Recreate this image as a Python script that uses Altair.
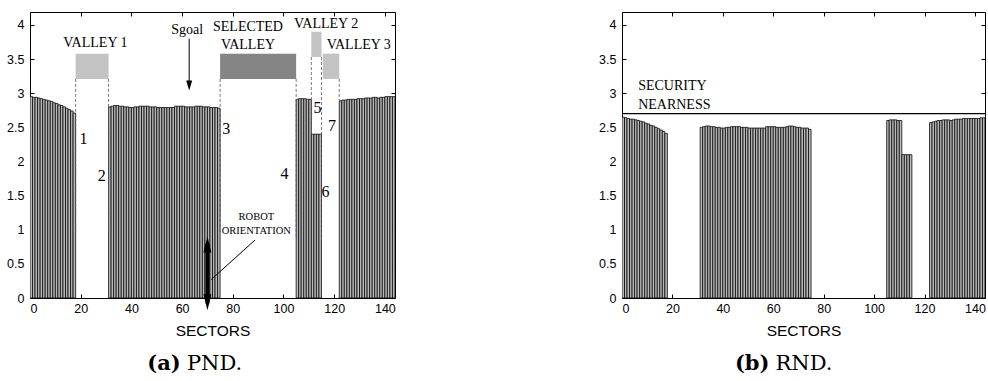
import altair as alt
import pandas as pd

# ---------------- data ----------------
SECTORS = list(range(144))

PND = ([2.95, 2.94, 2.94, 2.93, 2.92, 2.91, 2.90, 2.89, 2.88, 2.86, 2.85, 2.83, 2.82, 2.80, 2.78, 2.76, 2.74, 2.71]
       + [0.0] * 13
       + [2.80, 2.81, 2.82, 2.82, 2.81, 2.81, 2.80, 2.80, 2.79, 2.79,
          2.80, 2.80, 2.81, 2.81, 2.81, 2.81, 2.80, 2.80, 2.80, 2.79,
          2.79, 2.79, 2.79, 2.79, 2.79, 2.79, 2.81, 2.81, 2.81, 2.81,
          2.80, 2.80, 2.80, 2.80, 2.81, 2.81, 2.81, 2.80, 2.80, 2.80,
          2.79, 2.79, 2.79, 2.78]
       + [0.0] * 30
       + [2.91, 2.92, 2.92, 2.92, 2.91, 2.91]
       + [2.40, 2.40, 2.40, 2.40]
       + [0.0] * 7
       + [2.89, 2.90, 2.90, 2.91, 2.91, 2.91, 2.91, 2.92, 2.92, 2.92, 2.93,
          2.93, 2.93, 2.94, 2.94, 2.93, 2.94, 2.94, 2.95, 2.95, 2.95, 2.95])

RND = ([2.65, 2.64, 2.63, 2.62, 2.62, 2.61, 2.60, 2.59, 2.58, 2.56, 2.55, 2.53, 2.52, 2.50, 2.48, 2.46, 2.44, 2.41]
       + [0.0] * 13
       + [2.50, 2.51, 2.52, 2.52, 2.51, 2.51, 2.50, 2.50, 2.49, 2.49,
          2.50, 2.50, 2.51, 2.51, 2.51, 2.51, 2.50, 2.50, 2.50, 2.49,
          2.49, 2.49, 2.49, 2.49, 2.49, 2.49, 2.51, 2.51, 2.51, 2.51,
          2.50, 2.50, 2.50, 2.50, 2.51, 2.52, 2.52, 2.51, 2.50, 2.50,
          2.49, 2.49, 2.49, 2.47]
       + [0.0] * 30
       + [2.60, 2.61, 2.61, 2.61, 2.60, 2.60]
       + [2.10, 2.10, 2.10, 2.10]
       + [0.0] * 7
       + [2.57, 2.58, 2.59, 2.60, 2.60, 2.61, 2.61, 2.61, 2.60, 2.61, 2.62,
          2.62, 2.62, 2.63, 2.63, 2.63, 2.63, 2.63, 2.63, 2.63, 2.64, 2.64])

X_TICKS = [0, 20, 40, 60, 80, 100, 120, 140]
Y_TICKS = [0, 0.5, 1, 1.5, 2, 2.5, 3, 3.5, 4]
X_MAX = 144
Y_MAX = 4.19

# valleys (PND panel)
VALLEY_X1 = [18, 75, 111, 115.5]
VALLEY_X2 = [31, 105, 115, 122]
VALLEY_Y1 = [3.21, 3.21, 3.53, 3.21]
VALLEY_Y2 = [3.58, 3.58, 3.90, 3.58]
VALLEY_KIND = ["free", "selected", "free", "free"]

# dashed valley borders
DASH_X = [18, 31, 75, 105, 111, 115, 122]
DASH_TOP = [3.21, 3.21, 3.21, 3.21, 3.53, 3.53, 3.21]
DASH_BOTTOM = [0.95, 0.95, 0.95, 0.90, 2.40, 0.85, 2.90]

# region labels
LABELS = ["VALLEY 1", "Sgoal", "SELECTED", "VALLEY", "VALLEY 2", "VALLEY 3"]
LABEL_X = [25.8, 62, 86, 86, 116.8, 129.7]
LABEL_Y = [3.74, 3.93, 3.97, 3.70, 4.02, 3.70]

# discontinuity numbers
NUMS = ["1", "2", "3", "4", "5", "6", "7"]
NUM_X = [21.1, 28.3, 77.4, 100.4, 113.4, 116.6, 119.1]
NUM_Y = [2.33, 1.79, 2.47, 1.81, 2.79, 1.56, 2.52]

ROBOT_TEXT = ["ROBOT", "ORIENTATION"]
ROBOT_X = [89.3, 89.3]
ROBOT_Y = [1.18, 0.98]

# Sgoal arrow
SGOAL_X = 62.8
SGOAL_TOP = 3.80
SGOAL_TIP = 3.04

# robot orientation arrow
ROBOT_AX = 70
ROBOT_TOP = 0.90
ROBOT_BOTTOM = -0.18
POINTER = [88.8, 0.85, 71.5, 0.27]  # x, y, x2, y2

# RND panel
SECURITY_Y = 2.70
SEC_TEXT = ["SECURITY", "NEARNESS"]
SEC_X = [6.4, 6.4]
SEC_Y = [3.10, 2.83]

CAPTION_Y = -1.05

# ---------------- styles ----------------
SANS = "Liberation Sans"
SERIF = "Liberation Serif"
CAPF = "DejaVu Serif"

xs = alt.Scale(domain=[0, X_MAX], nice=False, zero=False)
ys = alt.Scale(domain=[0, Y_MAX], nice=False, zero=False)

common_axis = dict(domain=False, grid=False, tickSize=4, offset=-4, tickColor="black",
                   tickWidth=1, labelFont=SANS, labelFontSize=12.5, labelColor="black")

x_bottom = alt.Axis(orient="bottom", values=X_TICKS, format="d", title="SECTORS",
                    labelPadding=4, titleFont=SANS, titleFontSize=15.5, titleFontWeight="normal",
                    titleColor="black", titlePadding=9, **common_axis)
y_left = alt.Axis(orient="left", values=Y_TICKS, format="~g", title=None, labelPadding=6,
                  **common_axis)
x_top = alt.Axis(orient="top", values=X_TICKS, labels=False, title=None, **common_axis)
y_right = alt.Axis(orient="right", values=Y_TICKS, labels=False, title=None, **common_axis)


def X(field):
    return alt.X(field, scale=xs, axis=None)


def Y(field):
    return alt.Y(field, scale=ys, axis=None)


def bars_layers(values):
    df = pd.DataFrame({"sector": SECTORS, "value": values})
    bars = (alt.Chart(df)
            .transform_filter("datum.value > 0")
            .transform_calculate(end="datum.sector + 1")
            .mark_rect(fill="#b8b8b8", stroke="black", strokeWidth=0.75, clip=True)
            .encode(x=alt.X("sector:Q", scale=xs, axis=x_bottom),
                    x2="end:Q",
                    y=alt.Y("value:Q", scale=ys, axis=y_left),
                    y2=alt.datum(0)))
    frame = (alt.Chart(df).mark_point(opacity=0)
             .encode(x=alt.X("sector:Q", scale=xs, axis=x_top),
                     y=alt.Y("value:Q", scale=ys, axis=y_right)))
    return bars, frame


def text_layer(labels, xv, yv, size, font=SERIF, align="center", baseline="middle", weight="normal"):
    df = pd.DataFrame({"label": labels, "x": xv, "y": yv})
    return (alt.Chart(df)
            .mark_text(font=font, fontSize=size, align=align, baseline=baseline,
                       fontWeight=weight, color="black")
            .encode(x=X("x:Q"), y=Y("y:Q"), text="label:N"))


def caption(bold, rest, xb, xr):
    a = text_layer([bold], [xb], [CAPTION_Y], 21, font=CAPF, align="right",
                   baseline="alphabetic", weight="bold")
    b = text_layer([rest], [xr], [CAPTION_Y], 21, font=CAPF, align="left",
                   baseline="alphabetic")
    return [a, b]


# ---------------- left panel (PND) ----------------
bars_l, frame_l = bars_layers(PND)

valleys = (alt.Chart(pd.DataFrame({"x1": VALLEY_X1, "x2": VALLEY_X2, "y1": VALLEY_Y1,
                                   "y2": VALLEY_Y2, "kind": VALLEY_KIND}))
           .mark_rect()
           .encode(x=X("x1:Q"), x2="x2:Q", y=Y("y1:Q"), y2="y2:Q",
                   color=alt.Color("kind:N", scale=alt.Scale(domain=["free", "selected"],
                                                              range=["#c3c3c3", "#858585"]),
                                   legend=None)))

dashes = (alt.Chart(pd.DataFrame({"x": DASH_X, "top": DASH_TOP, "bottom": DASH_BOTTOM}))
          .mark_rule(color="#555555", strokeWidth=0.8, strokeDash=[3, 2])
          .encode(x=X("x:Q"), y=Y("top:Q"), y2="bottom:Q"))

sgoal_line = (alt.Chart(pd.DataFrame({"x": [SGOAL_X], "y": [SGOAL_TOP], "y2": [SGOAL_TIP + 0.08]}))
              .mark_rule(color="black", strokeWidth=1)
              .encode(x=X("x:Q"), y=Y("y:Q"), y2="y2:Q"))
sgoal_head = (alt.Chart(pd.DataFrame({"x": [SGOAL_X], "y": [SGOAL_TIP]}))
              .mark_point(shape="M-0.6,-2L0.6,-2L0,0Z", size=100, filled=True, color="black", opacity=1)
              .encode(x=X("x:Q"), y=Y("y:Q")))

robot_shaft = (alt.Chart(pd.DataFrame({"x": [ROBOT_AX], "y": [ROBOT_BOTTOM + 0.1], "y2": [ROBOT_TOP - 0.1]}))
               .mark_rule(color="black", strokeWidth=4)
               .encode(x=X("x:Q"), y=Y("y:Q"), y2="y2:Q"))
robot_up = (alt.Chart(pd.DataFrame({"x": [ROBOT_AX], "y": [ROBOT_TOP]}))
            .mark_point(shape="M-0.5,2L0.5,2L0,0Z", size=256, filled=True, color="black", opacity=1)
            .encode(x=X("x:Q"), y=Y("y:Q")))
robot_down = (alt.Chart(pd.DataFrame({"x": [ROBOT_AX], "y": [ROBOT_BOTTOM]}))
              .mark_point(shape="M-0.5,-2L0.5,-2L0,0Z", size=256, filled=True, color="black", opacity=1)
              .encode(x=X("x:Q"), y=Y("y:Q")))
pointer = (alt.Chart(pd.DataFrame({"x": [POINTER[0]], "y": [POINTER[1]],
                                   "x2": [POINTER[2]], "y2": [POINTER[3]]}))
           .mark_rule(color="black", strokeWidth=1)
           .encode(x=X("x:Q"), y=Y("y:Q"), x2="x2:Q", y2="y2:Q"))

left = alt.layer(
    bars_l, valleys, dashes,
    text_layer(LABELS, LABEL_X, LABEL_Y, 14),
    text_layer(NUMS, NUM_X, NUM_Y, 16),
    text_layer(ROBOT_TEXT, ROBOT_X, ROBOT_Y, 10.5),
    sgoal_line, sgoal_head, robot_shaft, robot_up, robot_down, pointer,
    *caption("(a)", "PND.", 59.5, 61.9),
    frame_l,
).resolve_axis(x="independent", y="independent").properties(width=365, height=286)

# ---------------- right panel (RND) ----------------
bars_r, frame_r = bars_layers(RND)

security = (alt.Chart(pd.DataFrame({"x": [0], "x2": [X_MAX], "y": [SECURITY_Y]}))
            .mark_rule(color="black", strokeWidth=1.2)
            .encode(x=X("x:Q"), x2="x2:Q", y=Y("y:Q")))

right = alt.layer(
    bars_r, security,
    text_layer(SEC_TEXT, SEC_X, SEC_Y, 14, align="left"),
    *caption("(b)", "RND.", 58.5, 60.9),
    frame_r,
).resolve_axis(x="independent", y="independent").properties(width=363, height=286)

chart = (alt.hconcat(left, right, spacing=202)
         .properties(padding={"left": 6, "top": 11, "right": 0, "bottom": 0}, background="white")
         .configure_view(stroke="black", strokeWidth=1))

chart.save("out.html", embed_options={"renderer": "svg", "actions": False})
